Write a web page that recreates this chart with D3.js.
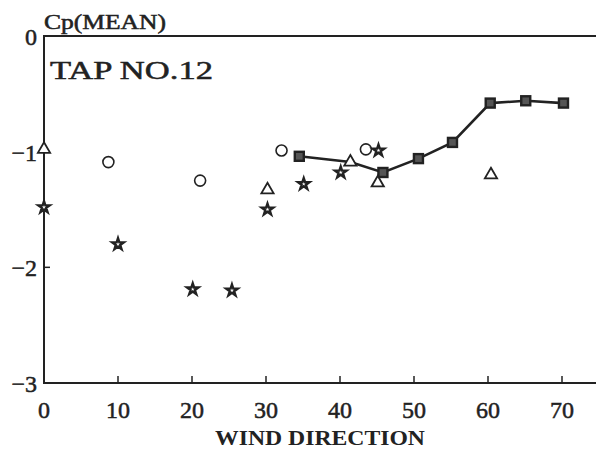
<!DOCTYPE html>
<html>
<head>
<meta charset="utf-8" />
<title>Cp mean, tap 12</title>
<script src="https://d3js.org/d3.v7.min.js"></script>
<style>
  body { margin: 0; background: #fff; }
  text { font-family: "Liberation Serif", "DejaVu Serif", serif; fill: #222; }
  .heavy { stroke: #222; stroke-width: 0.5px; }
</style>
</head>
<body>
<script>
// values
var lineDir = [34.5, 41.4, 45.8, 50.6, 55.2, 60.3, 65.1, 70.2];
var lineCp  = [-1.04, -1.09, -1.18, -1.06, -0.92, -0.58, -0.56, -0.58];
var squareDir = [34.5, 45.8, 50.6, 55.2, 60.3, 65.1, 70.2];
var squareCp  = [-1.04, -1.18, -1.06, -0.92, -0.58, -0.56, -0.58];
var triDir = [0, 30.2, 41.4, 45.1, 60.4];
var triCp  = [-0.98, -1.33, -1.09, -1.27, -1.20];
var circDir = [8.7, 21.1, 32.1, 43.5];
var circCp  = [-1.09, -1.25, -0.99, -0.98];
var starDir = [0, 10.0, 20.1, 25.4, 30.2, 35.1, 40.1, 45.2];
var starCp  = [-1.48, -1.80, -2.19, -2.20, -1.50, -1.28, -1.18, -0.99];
var xTicks = [0, 10, 20, 30, 40, 50, 60, 70];
var yTicks = [0, -1, -2, -3];

var W = 596, H = 452;
var x = d3.scaleLinear().domain([0, 75]).range([44, 599]);
var y = d3.scaleLinear().domain([-3, 0]).range([383, 36]);
var ink = "#222";

var svg = d3.select("body").append("svg")
    .attr("width", W).attr("height", H);

// frame (right side runs off the page)
svg.append("rect")
    .attr("x", x(0)).attr("y", y(0))
    .attr("width", x(75) - x(0)).attr("height", y(-3) - y(0))
    .attr("fill", "none").attr("stroke", ink).attr("stroke-width", 2);

// x ticks point up into the plot
svg.append("g").selectAll("line").data(xTicks.slice(1)).join("line")
    .attr("x1", d => x(d)).attr("x2", d => x(d))
    .attr("y1", y(-3)).attr("y2", y(-3) - 7)
    .attr("stroke", ink).attr("stroke-width", 1.5);
svg.append("g").selectAll("text").data(xTicks).join("text")
    .attr("class", "heavy")
    .attr("x", d => x(d)).attr("y", 418)
    .attr("text-anchor", "middle")
    .attr("font-size", 24)
    .text(d => d);

// y ticks
svg.append("g").selectAll("line").data([-1, -2]).join("line")
    .attr("x1", x(0)).attr("x2", x(0) + 6)
    .attr("y1", d => y(d)).attr("y2", d => y(d))
    .attr("stroke", ink).attr("stroke-width", 1.5);
svg.append("g").selectAll("text").data(yTicks).join("text")
    .attr("class", "heavy")
    .attr("x", 37).attr("y", d => y(d) + 9)
    .attr("text-anchor", "end")
    .attr("font-size", 24)
    .text(d => d === 0 ? "0" : "\u2212" + Math.abs(d));

svg.append("text")
    .attr("class", "heavy")
    .attr("x", 44).attr("y", 29)
    .attr("font-size", 20)
    .attr("textLength", 122).attr("lengthAdjust", "spacingAndGlyphs")
    .text("Cp(MEAN)");
svg.append("text")
    .attr("class", "heavy")
    .attr("x", 50).attr("y", 79)
    .attr("font-size", 25)
    .attr("textLength", 163).attr("lengthAdjust", "spacingAndGlyphs")
    .text("TAP  NO.12");
svg.append("text")
    .attr("x", 320).attr("y", 445)
    .attr("text-anchor", "middle")
    .attr("font-size", 22).attr("font-weight", "bold")
    .attr("textLength", 210).attr("lengthAdjust", "spacingAndGlyphs")
    .text("WIND  DIRECTION");

// connected series
var line = d3.line().x(d => x(d[0])).y(d => y(d[1]));
svg.append("path")
    .datum(d3.zip(lineDir, lineCp))
    .attr("d", line)
    .attr("fill", "none").attr("stroke", ink).attr("stroke-width", 2.6);

svg.append("g").selectAll("rect").data(d3.zip(squareDir, squareCp)).join("rect")
    .attr("x", d => x(d[0]) - 4.5).attr("y", d => y(d[1]) - 4.5)
    .attr("width", 9).attr("height", 9)
    .attr("fill", "#555").attr("stroke", ink).attr("stroke-width", 2.4);

// open circles
svg.append("g").selectAll("circle").data(d3.zip(circDir, circCp)).join("circle")
    .attr("cx", d => x(d[0])).attr("cy", d => y(d[1])).attr("r", 5.5)
    .attr("fill", "none").attr("stroke", ink).attr("stroke-width", 1.6);

// open triangles
var tri = d3.symbol().type(d3.symbolTriangle).size(65);
svg.append("g").selectAll("path").data(d3.zip(triDir, triCp)).join("path")
    .attr("d", tri)
    .attr("transform", d => "translate(" + x(d[0]) + "," + y(d[1]) + ")")
    .attr("fill", "#fff").attr("stroke", ink).attr("stroke-width", 1.8);

// stars
var star = d3.symbol().type(d3.symbolStar).size(40);
svg.append("g").selectAll("path").data(d3.zip(starDir, starCp)).join("path")
    .attr("d", star)
    .attr("transform", d => "translate(" + x(d[0]) + "," + y(d[1]) + ")")
    .attr("fill", "#fff").attr("stroke", ink).attr("stroke-width", 2.4);
</script>
</body>
</html>
